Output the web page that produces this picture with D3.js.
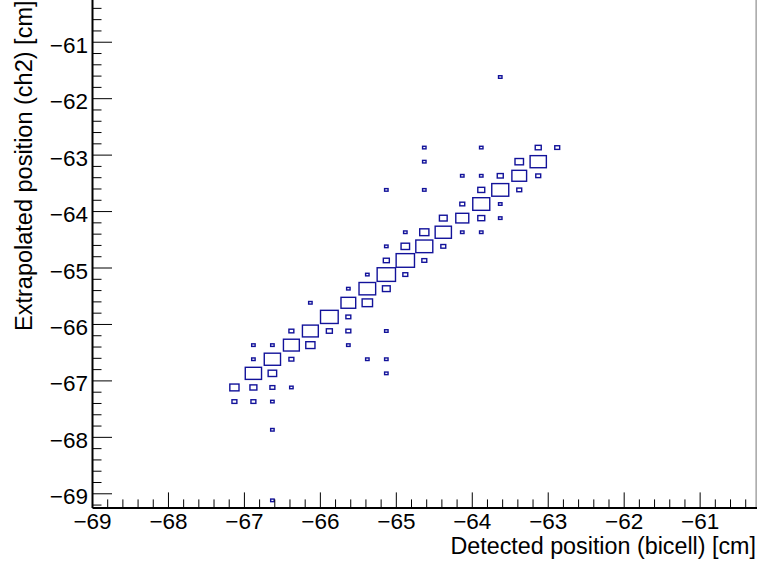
<!DOCTYPE html>
<html>
<head>
<meta charset="utf-8">
<script src="https://cdn.jsdelivr.net/npm/d3@7"></script>
<style>
  html, body { margin: 0; padding: 0; background: #fff; }
  svg { display: block; }
  .tick text { font-family: "Liberation Sans", Arial, Helvetica, sans-serif; }
</style>
</head>
<body>
<svg id="chart" width="757" height="567"></svg>
<script>
// 2D histogram, 0.25 cm bins: bin centres and entries
const binX = [
  -63.625,
  -64.625, -63.875, -63.125, -62.875,
  -64.625, -63.375, -63.125,
  -64.125, -63.875, -63.625, -63.375, -63.125,
  -65.125, -64.625, -63.875, -63.625, -63.375,
  -64.125, -63.875, -63.625,
  -64.375, -64.125, -63.875, -63.625,
  -64.875, -64.625, -64.375, -64.125, -63.875,
  -65.125, -64.875, -64.625, -64.375,
  -65.125, -64.875, -64.625,
  -65.375, -65.125, -64.875,
  -65.625, -65.375, -65.125,
  -66.125, -65.625, -65.375,
  -65.875, -65.625,
  -66.375, -66.125, -65.875, -65.625, -65.125,
  -66.875, -66.625, -66.375, -66.125, -65.625,
  -66.875, -66.625, -66.375, -65.375, -65.125,
  -66.875, -66.625, -65.125,
  -67.125, -66.875, -66.625, -66.375,
  -67.125, -66.875, -66.625,
  -66.625,
  -66.625
];
const binY = [
  -61.625,
  -62.875, -62.875, -62.875, -62.875,
  -63.125, -63.125, -63.125,
  -63.375, -63.375, -63.375, -63.375, -63.375,
  -63.625, -63.625, -63.625, -63.625, -63.625,
  -63.875, -63.875, -63.875,
  -64.125, -64.125, -64.125, -64.125,
  -64.375, -64.375, -64.375, -64.375, -64.375,
  -64.625, -64.625, -64.625, -64.625,
  -64.875, -64.875, -64.875,
  -65.125, -65.125, -65.125,
  -65.375, -65.375, -65.375,
  -65.625, -65.625, -65.625,
  -65.875, -65.875,
  -66.125, -66.125, -66.125, -66.125, -66.125,
  -66.375, -66.375, -66.375, -66.375, -66.375,
  -66.625, -66.625, -66.625, -66.625, -66.625,
  -66.875, -66.875, -66.875,
  -67.125, -67.125, -67.125, -67.125,
  -67.375, -67.375, -67.375,
  -67.875,
  -69.125
];
const binCount = [
  1,
  1, 1, 3, 2,
  1, 6, 22,
  1, 1, 3, 18, 2,
  1, 1, 4, 24, 2,
  2, 24, 1,
  5, 14, 4, 1,
  1, 7, 22, 1, 1,
  1, 6, 24, 2,
  3, 28, 2,
  1, 28, 2,
  1, 23, 5,
  1, 18, 9,
  26, 2,
  2, 21, 3, 2, 1,
  1, 1, 21, 7, 1,
  1, 22, 2, 1, 1,
  22, 6, 1,
  7, 4, 2, 1,
  2, 2, 1,
  1,
  1
];

// Axis ranges and tick labels
const xRange = [-69, -60.25];
const yRange = [-69.25, -60.25];
const binWidth = 0.25;
const xTickValues = [-69, -68, -67, -66, -65, -64, -63, -62, -61];
const yTickValues = [-69, -68, -67, -66, -65, -64, -63, -62, -61];
const xTitle = "Detected position (bicell) [cm]";
const yTitle = "Extrapolated position (ch2) [cm]";

const bins = binX.map((x, i) => ({ x, y: binY[i], n: binCount[i] }));

const svg = d3.select("#chart");
const frame = { left: 92, right: 756.6, top: -0.6, bottom: 507.4 };

const x = d3.scaleLinear().domain(xRange).range([frame.left, frame.right]);
const y = d3.scaleLinear().domain(yRange).range([frame.bottom, frame.top]);
// box side grows with the square root of the entries
const size = d3.scaleSqrt().domain([0, 30]).range([0, 1]);

const fmt = v => String(v).replace("-", "\u2212");
const font = '"Liberation Sans", Arial, Helvetica, sans-serif';

// boxes
const cellW = x(xRange[0] + binWidth) - x(xRange[0]);
const cellH = y(yRange[0]) - y(yRange[0] + binWidth);
svg.append("g")
  .selectAll("rect")
  .data(bins)
  .join("rect")
  .attr("x", d => x(d.x) - cellW * size(d.n) / 2)
  .attr("y", d => y(d.y) - cellH * size(d.n) / 2)
  .attr("width", d => cellW * size(d.n))
  .attr("height", d => cellH * size(d.n))
  .attr("fill", "none")
  .attr("stroke", "#12129a")
  .attr("stroke-width", 1.4);

// frame right edge
svg.append("line")
  .attr("x1", frame.right - 0.5).attr("x2", frame.right - 0.5)
  .attr("y1", frame.top).attr("y2", frame.bottom)
  .attr("stroke", "#777").attr("stroke-width", 1);

// minor ticks every 0.2
const xMinor = d3.range(-69, -60.25, 0.2).map(v => +v.toFixed(2)).filter(v => Math.abs(v - Math.round(v)) > 1e-6);
const yMinor = d3.range(-69.2, -60.25, 0.2).map(v => +v.toFixed(2)).filter(v => Math.abs(v - Math.round(v)) > 1e-6);

const gx = svg.append("g").attr("transform", `translate(0,${frame.bottom})`);
gx.append("g")
  .call(d3.axisBottom(x).tickValues(xMinor).tickSizeInner(-8).tickSizeOuter(0).tickFormat(""))
  .call(g => g.select(".domain").remove());
gx.append("g")
  .call(d3.axisBottom(x).tickValues(xTickValues).tickSizeInner(-15).tickSizeOuter(0).tickPadding(5.5).tickFormat(fmt))
  .call(g => g.select(".domain").attr("stroke-width", 2))
  .call(g => g.selectAll(".tick text").attr("font-size", 22.5).attr("fill", "#000").style("font-family", font));

const gy = svg.append("g").attr("transform", `translate(${frame.left},0)`);
gy.append("g")
  .call(d3.axisLeft(y).tickValues(yMinor).tickSizeInner(-9.5).tickSizeOuter(0).tickFormat(""))
  .call(g => g.select(".domain").remove());
gy.append("g")
  .call(d3.axisLeft(y).tickValues(yTickValues).tickSizeInner(-20).tickSizeOuter(0).tickPadding(4).tickFormat(fmt))
  .call(g => g.select(".domain").attr("stroke-width", 2))
  .call(g => g.selectAll(".tick text").attr("font-size", 22.5).attr("dy", "0.47em").attr("fill", "#000").style("font-family", font));

// axis titles
svg.append("text")
  .attr("x", 756).attr("y", 554)
  .attr("text-anchor", "end")
  .attr("font-family", font).attr("font-size", 23.3)
  .text(xTitle);

svg.append("text")
  .attr("transform", "translate(31.5,0.5) rotate(-90)")
  .attr("text-anchor", "end")
  .attr("font-family", font).attr("font-size", 23.5)
  .text(yTitle);
</script>
</body>
</html>
